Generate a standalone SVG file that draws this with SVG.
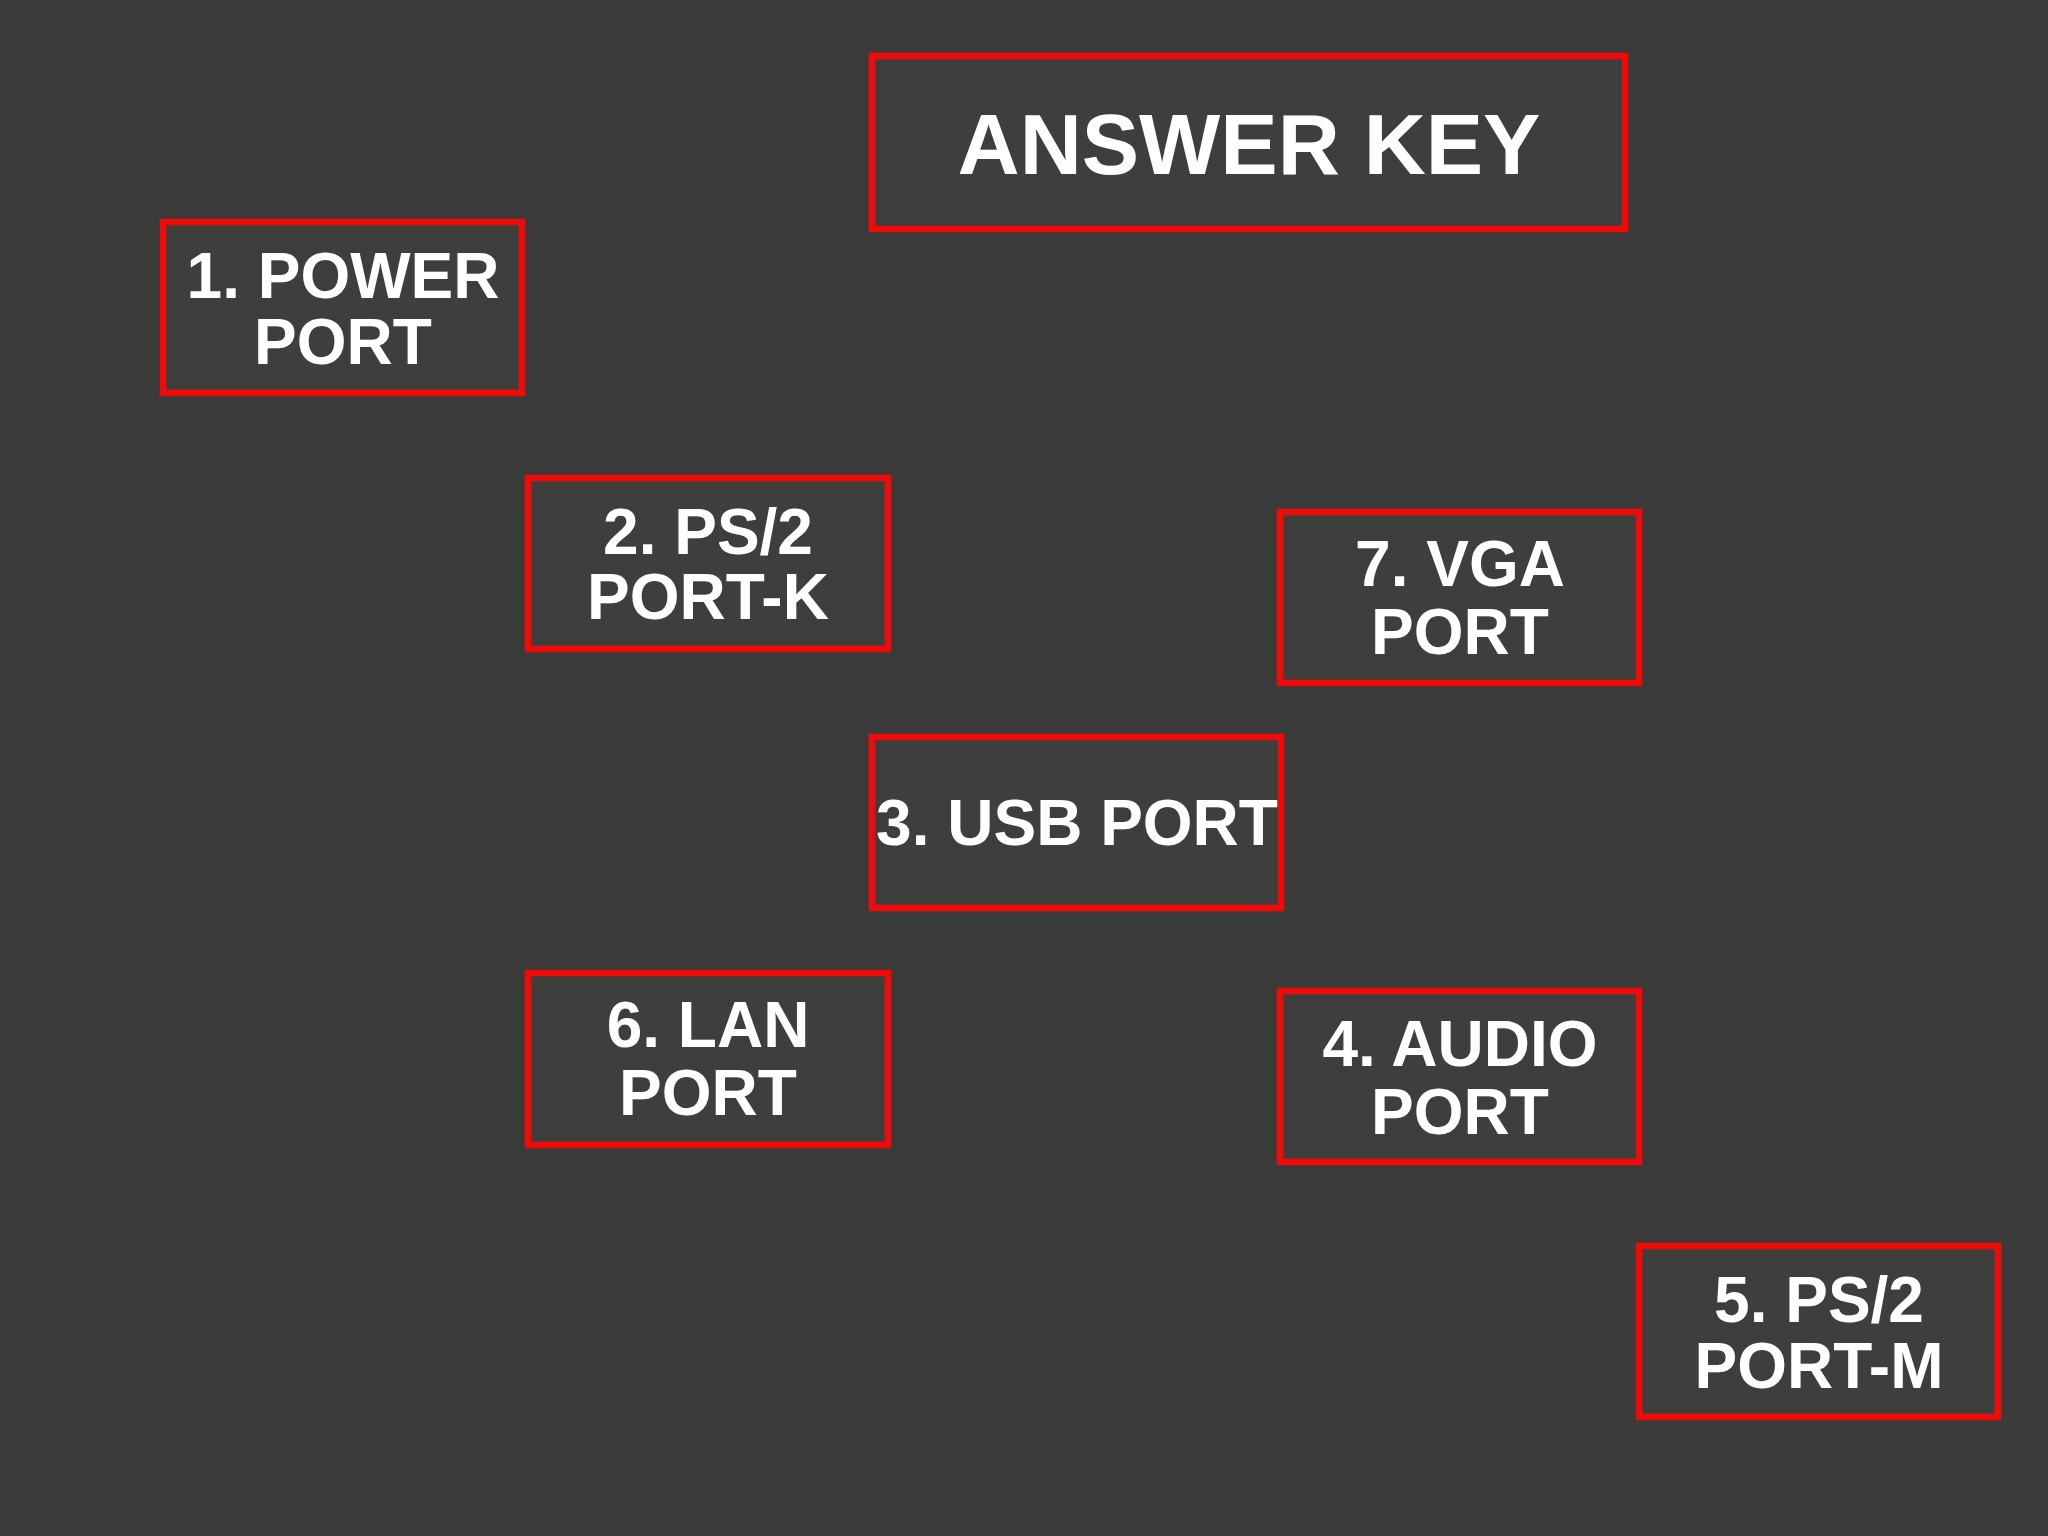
<svg xmlns="http://www.w3.org/2000/svg" width="2048" height="1536" viewBox="0 0 2048 1536">
<style>
.b{fill:#3e3f3d;stroke:#f00a0a;stroke-width:6.5}
.t{font-family:"Liberation Sans",Arial,sans-serif;font-weight:bold;fill:#fff;text-anchor:middle;font-size:64px}
</style>
<rect width="2048" height="1536" fill="#3b3b3b"/>
<g id="title"><rect class="b" x="872" y="56" width="753" height="173"/><text class="t" x="1249" y="174" style="font-size:86px">ANSWER KEY</text></g>
<g id="n1"><rect class="b" x="163" y="222" width="359" height="171"/><text class="t" x="343" y="298">1. POWER</text><text class="t" x="343" y="364">PORT</text></g>
<g id="n2"><rect class="b" x="528" y="478" width="360" height="171"/><text class="t" x="708" y="554">2. PS/2</text><text class="t" x="708" y="619">PORT-K</text></g>
<g id="n7"><rect class="b" x="1280" y="512" width="359" height="171"/><text class="t" x="1460" y="586">7. VGA</text><text class="t" x="1460" y="654">PORT</text></g>
<g id="n3"><rect class="b" x="872" y="737" width="409" height="171"/><text class="t" x="1077" y="845">3. USB PORT</text></g>
<g id="n6"><rect class="b" x="528" y="973" width="360" height="172"/><text class="t" x="708" y="1047">6. LAN</text><text class="t" x="708" y="1115">PORT</text></g>
<g id="n4"><rect class="b" x="1280" y="991" width="359" height="171"/><text class="t" x="1460" y="1066">4. AUDIO</text><text class="t" x="1460" y="1134">PORT</text></g>
<g id="n5"><rect class="b" x="1639" y="1246" width="359" height="171"/><text class="t" x="1819" y="1322">5. PS/2</text><text class="t" x="1819" y="1388">PORT-M</text></g>
<g id="connectors"/>
</svg>
